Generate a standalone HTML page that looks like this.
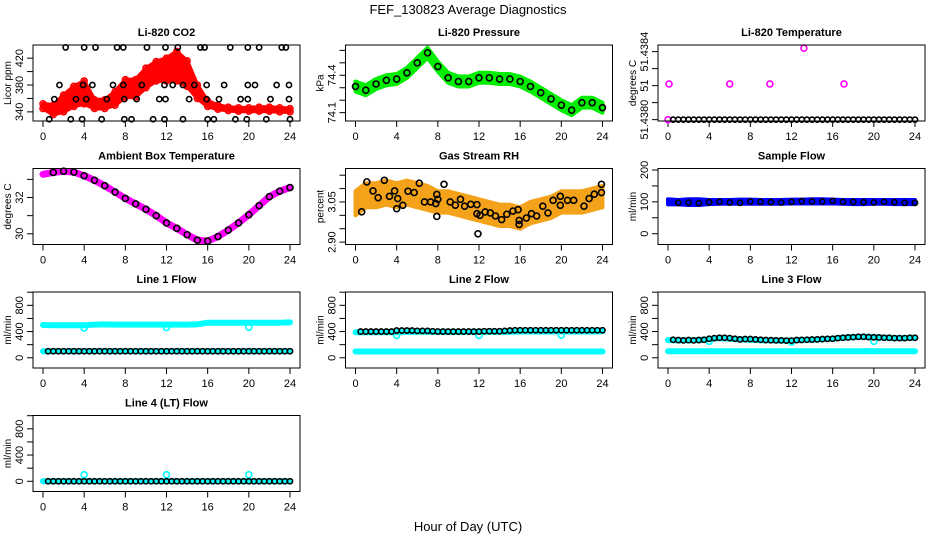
<!DOCTYPE html>
<html><head><meta charset="utf-8"><style>
html,body{margin:0;padding:0;background:#fff;}
svg{display:block;font-family:"Liberation Sans",sans-serif;}
</style></head><body>
<svg id="chart" width="936" height="540" viewBox="0 0 936 540" xmlns="http://www.w3.org/2000/svg">
<rect x="0" y="0" width="936" height="540" fill="#fff"/>
<text x="468" y="14" font-size="13" text-anchor="middle">FEF_130823  Average Diagnostics</text>
<text x="468" y="531" font-size="13" text-anchor="middle">Hour of Day (UTC)</text>
</svg>
<script>
// ---- data ----
const hourTicks = [0,4,8,12,16,20,24];
const co2Low  = [345,336,340,348,352,345,345,350,362,362,376,386,386,386,378,360,348,344,342,341,341,341,341,340,340];
const co2High = [352,350,365,378,386,358,358,370,388,388,405,415,420,430,416,380,356,350,347,346,346,347,347,346,345];
const co2BlackHours = [2.2,4.0,5.1,7.2,7.8,10.1,11.9,13.1,15.3,15.7,18.2,19.9,21.0,23.2,23.6, 1.6,3.9,4.8,6.8,7.8,9.6,11.8,12.6,13.6,14.7,15.9,17.6,19.9,20.6,22.7,23.9, 1.1,3.2,4.2,6.2,7.9,9.1,11.3,11.9,14.2,15.9,17.1,19.2,19.9,22.1,23.9, 0.6,2.7,3.8,5.7,7.9,8.6,10.7,11.8,13.6,16.0,16.6,18.7,19.8,21.7,24.0];
const co2BlackVals = [436,436,436,436,436,436,436,436,436,436,436,436,436,436,436, 380,380,380,380,380,380,380,380,380,380,380,380,380,380,380,380, 359,359,359,359,359,359,359,359,359,359,359,359,359,359,359, 329,329,329,329,329,329,329,329,329,329,329,329,329,329,329];
const co2Ticks = [340,360,380,400,420];
const co2Labels = ["340","","380","","420"];

const presMid  = [74.31,74.28,74.33,74.36,74.37,74.42,74.50,74.58,74.47,74.38,74.35,74.35,74.38,74.38,74.37,74.37,74.35,74.31,74.26,74.21,74.16,74.12,74.18,74.18,74.14];
const presLow  = [74.27,74.24,74.29,74.32,74.33,74.38,74.46,74.54,74.43,74.34,74.31,74.31,74.34,74.34,74.33,74.33,74.31,74.27,74.22,74.17,74.12,74.08,74.14,74.14,74.10];
const presHigh = [74.35,74.32,74.37,74.40,74.41,74.46,74.54,74.62,74.51,74.42,74.39,74.39,74.42,74.42,74.41,74.41,74.39,74.35,74.30,74.25,74.20,74.16,74.22,74.22,74.18];
const presTicks = [74.1,74.2,74.3,74.4,74.5,74.6];
const presLabels = ["74.1","","","74.4","",""];

const tempBlack = [51.4380,51.4380,51.4380,51.4380,51.4380,51.4380,51.4380,51.4380,51.4380,51.4380,51.4380,51.4380,51.4380,51.4380,51.4380,51.4380,51.4380,51.4380,51.4380,51.4380,51.4380,51.4380,51.4380,51.4380,51.4380,51.4380,51.4380,51.4380,51.4380,51.4380,51.4380,51.4380,51.4380,51.4380,51.4380,51.4380,51.4380,51.4380,51.4380,51.4380,51.4380,51.4380,51.4380,51.4380,51.4380,51.4380,51.4380,51.4380];
const tempOutHours = [0.1,6.0,9.9,13.2,17.1];
const tempOutVals = [51.43821,51.43821,51.43821,51.43842,51.43821];
const tempTicks = [51.4380,51.4381,51.4382,51.4383,51.4384];
const tempLabels = ["51.4380","","51","","51.4384"];

const ambMid = [33.28,33.38,33.45,33.40,33.20,32.95,32.65,32.30,31.95,31.65,31.35,31.00,30.60,30.30,29.95,29.65,29.60,29.85,30.20,30.60,31.05,31.55,32.05,32.35,32.55];
const ambTicks = [30,31,32,33];
const ambLabels = ["30","","32",""];

const rhLow  = [3.00,3.03,3.03,3.04,3.03,3.04,3.03,3.02,3.01,3.01,3.00,2.99,2.98,2.97,2.96,2.96,2.95,2.97,2.98,2.99,3.01,3.01,3.01,3.02,3.03];
const rhHigh = [3.09,3.12,3.12,3.13,3.12,3.13,3.12,3.11,3.09,3.09,3.08,3.07,3.06,3.05,3.04,3.04,3.03,3.05,3.06,3.07,3.09,3.09,3.09,3.10,3.11];
const rhPtHours = [0.6,1.1,1.7,2.2,2.8,3.3,3.8,4.0,4.1,4.6,5.1,5.7,6.2,6.7,7.3,7.8,7.9,7.9,8.0,8.6,9.2,9.7,10.2,10.6,11.2,11.8,11.8,11.9,12.1,12.6,13.1,13.6,14.2,14.7,15.3,15.8,15.9,15.9,16.6,17.1,17.6,18.2,18.7,19.2,19.9,19.9,20.6,21.2,22.2,22.7,23.2,23.9,23.9];
const rhPtVals  = [3.013,3.125,3.091,3.066,3.131,3.071,3.091,3.025,3.0625,3.0375,3.09,3.085,3.12,3.05,3.05,3.044,3.078,2.996,3.06,3.116,3.05,3.038,3.06,3.034,3.041,3.04,3.006,2.931,3.0,3.0125,3.009,2.9975,2.984,3.004,3.016,3.021,2.981,2.966,2.99,3.006,2.9975,3.034,3.009,3.056,3.0375,3.071,3.056,3.056,3.034,3.0625,3.079,3.085,3.116];
const rhTicks = [2.90,2.95,3.00,3.05,3.10,3.15];
const rhLabels = ["2.90","","","3.05","",""];

const sfBlack = [102,97,98,96,99,100,98,97,101,100,99,98,100,102,101,101,103,100,100,99,98,100,99,97,97];
const sfLow  = [92,92,90,90,93,94,94,94,94,94,94,94,95,95,95,95,95,94,93,93,94,94,93,93,93];
const sfHigh = [108,106,108,108,106,106,106,107,107,106,106,106,107,107,108,108,107,106,106,106,106,106,106,106,106];
const sfTicks = [0,50,100,150,200];
const sfLabels = ["0","","100","","200"];

const flowTicks = [0,200,400,600,800,1000];
const flowLabels = ["0","","400","","800",""];
const outHours = [4,12,20];

const l1Black = [100,100,100,100,100,100,100,100,100,100,100,100,100,100,100,100,100,100,100,100,100,100,100,100,100,100,100,100,100,100,100,100,100,100,100,100,100,100,100,100,100,100,100,100,100,100,100,100];
const l1CyanHigh = [500,495,495,495,495,505,510,505,505,505,505,505,505,505,505,510,535,535,535,535,535,535,535,535,540];
const l1CyanLow = [100,100,100,100,100,100,100,100,100,100,100,100,100,100,100,100,100,100,100,100,100,100,100,100,100];
const l1CyanOut = [455,460,465];

const l2Black = [400,400,400,400,400,400,400,415,415,415,415,410,410,410,405,400,400,400,400,400,400,400,400,400,405,405,405,405,410,415,420,420,420,420,420,420,420,420,420,420,420,420,420,420,420,420,420,420];
const l2CyanHigh = [390,390,390,390,390,395,395,395,395,395,395,395,395,395,395,395,400,400,400,400,400,400,400,400,405];
const l2CyanLow = [95,95,95,95,95,95,95,95,95,95,95,95,95,95,95,95,95,95,95,95,95,95,95,95,95];
const l2CyanOut = [340,340,345];

const l3Black = [275,270,265,270,265,270,275,290,300,305,305,300,290,280,285,285,280,275,270,268,265,265,262,262,270,272,275,278,280,285,288,290,300,305,310,315,320,320,315,312,310,305,305,300,300,300,305,305];
const l3CyanHigh = [270,265,265,270,285,300,290,280,275,268,265,262,262,270,275,280,290,305,315,320,315,305,300,300,305];
const l3CyanLow = [100,100,100,100,100,100,100,100,100,100,100,100,100,100,100,100,100,100,100,100,100,100,100,100,100];
const l3CyanOut = [250,240,250];

const l4Black = [0,0,0,0,0,0,0,0,0,0,0,0,0,0,0,0,0,0,0,0,0,0,0,0,0,0,0,0,0,0,0,0,0,0,0,0,0,0,0,0,0,0,0,0,0,0,0,0];
const l4Cyan = [0,0,0,0,0,0,0,0,0,0,0,0,0,0,0,0,0,0,0,0,0,0,0,0,0];
const l4CyanOut = [100,100,100];

// ---- drawing ----
const svg = document.getElementById('chart');
const NS = 'http://www.w3.org/2000/svg';
function mk(tag, attrs, parent){
  const e = document.createElementNS(NS, tag);
  for (const k in attrs) e.setAttribute(k, attrs[k]);
  (parent||svg).appendChild(e);
  return e;
}
const BW = 267, BH = 76;
function panel(name, col, row, title, ylab, yBot, yTop, ticks, labels){
  const bx = 33 + col*312.5, by = 45 + row*123.5;
  const g = mk('g', {});
  
  
  const p = {g, bx, by,
    x: h => bx + 10 + h/24*247,
    y: v => by + BH - (v - yBot)/(yTop - yBot)*BH};
  const t = mk('text', {x: bx+BW/2, y: by-9, 'font-size': 11, 'font-weight': 'bold', 'text-anchor': 'middle'}, g);
  t.textContent = title;
  
  
  const yl = mk('text', {x: 0, y: 0, 'font-size': 10, 'text-anchor': 'middle', transform: `translate(${bx-22},${by+BH/2}) rotate(-90)`}, g);
  yl.textContent = ylab;
  
  
  // x axis
  const xa = mk('line', {x1: p.x(0), x2: p.x(24), y1: by+BH, y2: by+BH, stroke: '#000'}, g);
  
  
  hourTicks.forEach(h => {
    const tk = mk('line', {x1: p.x(h), x2: p.x(h), y1: by+BH, y2: by+BH+6, stroke: '#000'}, g);
    
    
    const tl = mk('text', {x: p.x(h), y: by+BH+19, 'font-size': 11, 'text-anchor': 'middle'}, g);
    tl.textContent = String(h);
    
    
  });
  // y axis
  const ya = mk('line', {x1: bx, x2: bx, y1: p.y(ticks[0]), y2: p.y(ticks[ticks.length-1]), stroke: '#000'}, g);
  
  
  ticks.forEach((v, i) => {
    const tk = mk('line', {x1: bx-6, x2: bx, y1: p.y(v), y2: p.y(v), stroke: '#000'}, g);
    
    
    if (labels[i]) {
      const tl = mk('text', {x: 0, y: 0, 'font-size': 11, 'text-anchor': 'middle', transform: `translate(${bx-10},${p.y(v)}) rotate(-90)`}, g);
      tl.textContent = labels[i];
      
      
    }
  });
  p.plot = mk('g', {}, g);
  p.finish = () => {
    const b = mk('rect', {x: bx, y: by, width: BW, height: BH, fill: 'none', stroke: '#000'}, g);
    
    
  };
  return p;
}
function pt(p, h, v, color, r){
  const c = mk('circle', {cx: p.x(h), cy: p.y(v), r: r||2.6, fill: 'none', stroke: color, 'stroke-width': 1.6}, p.plot);
  
  
  return c;
}
function band(p, low, high, color){
  const hs = low.map((_, i) => i * 24/(low.length-1));
  let pts = hs.map((h, i) => p.x(h)+','+p.y(high[i]));
  pts = pts.concat(hs.map((h, i) => p.x(h)+','+p.y(low[i])).reverse());
  const e = mk('polygon', {points: pts.join(' '), fill: color, stroke: color, 'stroke-width': 4, 'stroke-linejoin': 'round'}, p.plot);
  
  
}
function line(p, vals, color, w){
  const pts = vals.map((v, i) => p.x(i*24/(vals.length-1))+','+p.y(v)).join(' ');
  const e = mk('polyline', {points: pts, fill: 'none', stroke: color, 'stroke-width': w, 'stroke-linejoin': 'round', 'stroke-linecap': 'round'}, p.plot);
  
  
}
function halfSeries(p, vals, color){ vals.forEach((v, i) => pt(p, 0.5 + i*0.5, v, color)); }

// CO2
let p = panel('co2-panel', 0, 0, 'Li-820 CO2', 'Licor ppm', 326.4, 439.6, co2Ticks, co2Labels);
band(p, co2Low, co2High, '#ff0000');
co2Low.forEach((v, i) => { pt(p, i, v, '#ff0000', 3); pt(p, i, co2High[i], '#ff0000', 3); });
co2BlackHours.forEach((h, i) => pt(p, h, co2BlackVals[i], '#000'));
p.finish();

// Pressure
p = panel('pressure-panel', 1, 0, 'Li-820 Pressure', 'kPa', 74.033, 74.643, presTicks, presLabels);
band(p, presLow, presHigh, '#00ee00');
presMid.forEach((v, i) => pt(p, i, v, '#000', 3));
p.finish();

// Li-820 Temperature
p = panel('li820-temp-panel', 2, 0, 'Li-820 Temperature', 'degrees C', 51.437992, 51.438439, tempTicks, tempLabels);
pt(p, 0, 51.4380, '#ff00ff', 3);
halfSeries(p, tempBlack, '#000');
tempOutHours.forEach((h, i) => pt(p, h, tempOutVals[i], '#ff00ff', 3));
p.finish();

// Ambient
p = panel('ambient-temp-panel', 0, 1, 'Ambient Box Temperature', 'degrees C', 29.41, 33.6, ambTicks, ambLabels);
line(p, ambMid, '#ff00ff', 7);
ambMid.forEach((v, i) => { if (i > 0) pt(p, i, v, '#000', 3); });
p.finish();

// RH
p = panel('gas-rh-panel', 1, 1, 'Gas Stream RH', 'percent', 2.891, 3.175, rhTicks, rhLabels);
band(p, rhLow, rhHigh, '#f4a21a');
rhPtHours.forEach((h, i) => pt(p, h, rhPtVals[i], '#000', 3));
p.finish();

// Sample flow
p = panel('sample-flow-panel', 2, 1, 'Sample Flow', 'ml/min', -33.9, 204.7, sfTicks, sfLabels);
band(p, sfLow, sfHigh, '#0000ff');
sfBlack.forEach((v, i) => { if (i > 0) pt(p, i, v, '#000'); });
p.finish();

// Line flows
const fBot = -156, fTop = 1003;
p = panel('line1-flow-panel', 0, 2, 'Line 1 Flow', 'ml/min', fBot, fTop, flowTicks, flowLabels);
line(p, l1CyanHigh, '#00ffff', 6);
line(p, l1CyanLow, '#00ffff', 6);
outHours.forEach((h, i) => pt(p, h, l1CyanOut[i], '#00ffff', 3));
halfSeries(p, l1Black, '#000');
p.finish();

p = panel('line2-flow-panel', 1, 2, 'Line 2 Flow', 'ml/min', fBot, fTop, flowTicks, flowLabels);
line(p, l2CyanHigh, '#00ffff', 6);
line(p, l2CyanLow, '#00ffff', 6);
outHours.forEach((h, i) => pt(p, h, l2CyanOut[i], '#00ffff', 3));
halfSeries(p, l2Black, '#000');
p.finish();

p = panel('line3-flow-panel', 2, 2, 'Line 3 Flow', 'ml/min', fBot, fTop, flowTicks, flowLabels);
line(p, l3CyanHigh, '#00ffff', 6);
line(p, l3CyanLow, '#00ffff', 6);
outHours.forEach((h, i) => pt(p, h, l3CyanOut[i], '#00ffff', 3));
halfSeries(p, l3Black, '#000');
p.finish();

p = panel('line4-flow-panel', 0, 3, 'Line 4 (LT) Flow', 'ml/min', fBot, fTop, flowTicks, flowLabels);
line(p, l4Cyan, '#00ffff', 6);
outHours.forEach((h, i) => pt(p, h, l4CyanOut[i], '#00ffff', 3));
halfSeries(p, l4Black, '#000');
p.finish();
</script>
</body></html>
